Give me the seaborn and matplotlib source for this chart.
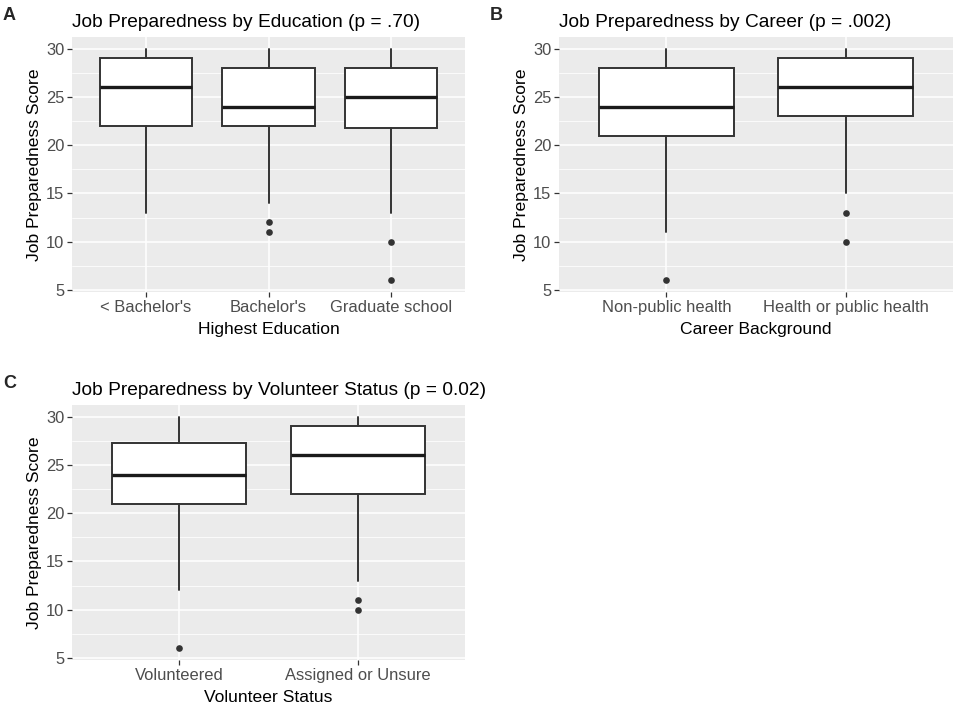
import matplotlib
matplotlib.use("Agg")
from matplotlib import pyplot as plt
import seaborn as sns
import pandas as pd

# panel A - highest education
edu_groups = ["< Bachelor's", "Bachelor's", "Graduate school"]
edu_low = [13, 14, 13]
edu_q1 = [22, 22, 21.75]
edu_med = [26, 24, 25]
edu_q3 = [29, 28, 28]
edu_high = [30, 30, 30]
edu_out = [[], [12, 11], [10, 6]]

# panel B - career background
car_groups = ["Non-public health", "Health or public health"]
car_low = [11, 15]
car_q1 = [21, 23]
car_med = [24, 26]
car_q3 = [28, 29]
car_high = [30, 30]
car_out = [[6], [13, 10]]

# panel C - volunteer status
vol_groups = ["Volunteered", "Assigned or Unsure"]
vol_low = [12, 13]
vol_q1 = [21, 22]
vol_med = [24, 26]
vol_q3 = [27.25, 29]
vol_high = [30, 30]
vol_out = [[6], [11, 10]]

y_ticks = [5, 10, 15, 20, 25, 30]
y_minor = [7.5, 12.5, 17.5, 22.5, 27.5]

sns.set_theme(style="darkgrid", rc={
    "axes.facecolor": "#EBEBEB",
    "grid.color": "white",
    "axes.edgecolor": "#EBEBEB",
})
plt.rcParams['font.family'] = ['Liberation Sans', 'DejaVu Sans']

W, H = 957, 705
fig = plt.figure(figsize=(W / 100, H / 100), dpi=100)


def panel(rect, groups, low, q1, med, q3, high, out, title, xlabel, tag):
    l, t, w, h = rect
    ax = fig.add_axes([l / W, 1 - (t + h) / H, w / W, h / H])

    # outliers through seaborn
    rows = [(g, v) for g, vals in zip(groups, out) for v in vals]
    df = pd.DataFrame(rows, columns=["group", "value"])
    sns.stripplot(data=df, x="group", y="value", order=groups, jitter=False,
                  color="#333333", size=4.8, linewidth=0, ax=ax, zorder=4)

    stats = []
    for g, lo, a, m, b, hi in zip(groups, low, q1, med, q3, high):
        stats.append(dict(label=g, whislo=lo, q1=a, med=m, q3=b, whishi=hi, fliers=[]))
    ax.bxp(stats, positions=list(range(len(groups))), widths=0.75,
           showfliers=False, showcaps=False, patch_artist=True, manage_ticks=False,
           boxprops=dict(facecolor="white", edgecolor="#333333", linewidth=1.4),
           medianprops=dict(color="#1a1a1a", linewidth=2.4, solid_capstyle="butt"),
           whiskerprops=dict(color="#333333", linewidth=1.4))

    n = len(groups)
    ax.set_xlim(-0.6, n - 0.4)
    ax.set_ylim(4.8, 31.2)
    ax.set_xticks(range(n))
    ax.set_xticklabels(groups)
    ax.set_yticks(y_ticks)
    ax.set_yticks(y_minor, minor=True)
    ax.set_axisbelow(True)
    ax.grid(True, which="major", axis="both", color="white", linewidth=1.1)
    ax.grid(True, which="minor", axis="y", color="white", linewidth=0.55)
    for s in ax.spines.values():
        s.set_visible(False)
    ax.tick_params(axis="both", which="major", length=3.5, width=0.9, color="#333333",
                   labelsize=11.9, labelcolor="#4D4D4D", pad=2, left=True, bottom=True)
    ax.tick_params(axis="y", which="minor", length=0)

    ax.set_xlabel(xlabel, fontsize=12.6, color="black", labelpad=5)
    ax.set_ylabel("Job Preparedness Score", fontsize=12.6, color="black", labelpad=3)
    ax.set_title(title, loc="left", fontsize=13.8, color="black", pad=7)
    fig.text((l - 69) / W, 1 - (t - 22) / H, tag, fontsize=13, fontweight="bold",
             ha="left", va="center")
    return ax


panel((72, 37, 393, 255), edu_groups, edu_low, edu_q1, edu_med, edu_q3, edu_high, edu_out,
      "Job Preparedness by Education (p = .70)", "Highest Education", "A")
panel((559, 37, 394, 255), car_groups, car_low, car_q1, car_med, car_q3, car_high, car_out,
      "Job Preparedness by Career (p = .002)", "Career Background", "B")
panel((72, 405, 393, 255), vol_groups, vol_low, vol_q1, vol_med, vol_q3, vol_high, vol_out,
      "Job Preparedness by Volunteer Status (p = 0.02)", "Volunteer Status", "C")

fig.savefig("out.png", dpi=100, facecolor="white")
